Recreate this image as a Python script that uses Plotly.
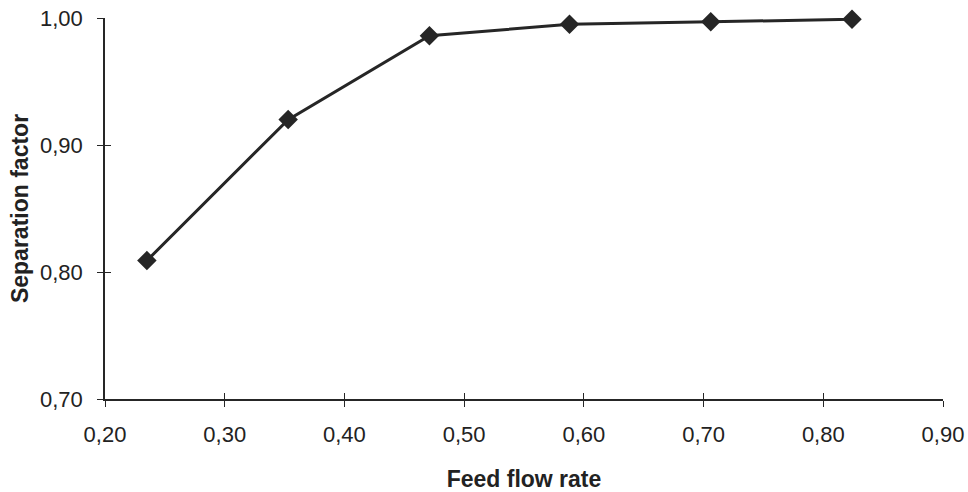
import plotly.graph_objects as go

feed_flow_rate = [0.235, 0.353, 0.471, 0.588, 0.706, 0.824]
separation_factor = [0.809, 0.920, 0.986, 0.995, 0.997, 0.999]

x_title = "Feed flow rate"
y_title = "Separation factor"

ink = "#262626"
font_family = "Liberation Sans, Arial, sans-serif"

fig = go.Figure()
fig.add_trace(go.Scatter(
    x=feed_flow_rate, y=separation_factor, mode="lines+markers",
    line=dict(color=ink, width=3),
    marker=dict(symbol="diamond", size=15, color=ink),
    showlegend=False, hoverinfo="x+y", cliponaxis=False,
))
# invisible trace to carry the overlay axes (inner half of crossing ticks)
fig.add_trace(go.Scatter(
    x=feed_flow_rate, y=separation_factor, mode="markers",
    marker=dict(opacity=0), xaxis="x2", yaxis="y2",
    showlegend=False, hoverinfo="skip",
))

axis_common = dict(showgrid=False, zeroline=False, tickcolor=ink, tickwidth=1.2,
                   automargin=False)

fig.update_layout(
    width=968, height=492,
    margin=dict(l=105, r=25, t=18, b=93),
    paper_bgcolor="white", plot_bgcolor="white",
    separators=", ",
    font=dict(family=font_family, size=22, color="#222"),
    xaxis=dict(
        range=[0.2, 0.9], dtick=0.1, tick0=0.2, tickformat=".2f",
        showline=True, linecolor=ink, linewidth=1.5,
        ticks="outside", ticklen=6, ticklabelstandoff=9,
        title=dict(text=f"<b>{x_title}</b>", font=dict(size=23), standoff=28),
        **axis_common,
    ),
    yaxis=dict(
        range=[0.7, 1.0], dtick=0.1, tick0=0.7, tickformat=".2f",
        showline=True, linecolor=ink, linewidth=1.5,
        ticks="outside", ticklen=6, ticklabelstandoff=10,
        title=dict(text=f"<b>{y_title}</b>", font=dict(size=23), standoff=5),
        **axis_common,
    ),
    xaxis2=dict(
        overlaying="x", anchor="y", side="bottom", matches="x",
        range=[0.2, 0.9], dtick=0.1, tick0=0.2,
        ticks="inside", ticklen=6, showticklabels=False, showline=False,
        **axis_common,
    ),
    yaxis2=dict(
        overlaying="y", anchor="x", side="left", matches="y",
        range=[0.7, 1.0], dtick=0.1, tick0=0.7,
        ticks="inside", ticklen=6, showticklabels=False, showline=False,
        **axis_common,
    ),
)

fig.write_html("out.html")
